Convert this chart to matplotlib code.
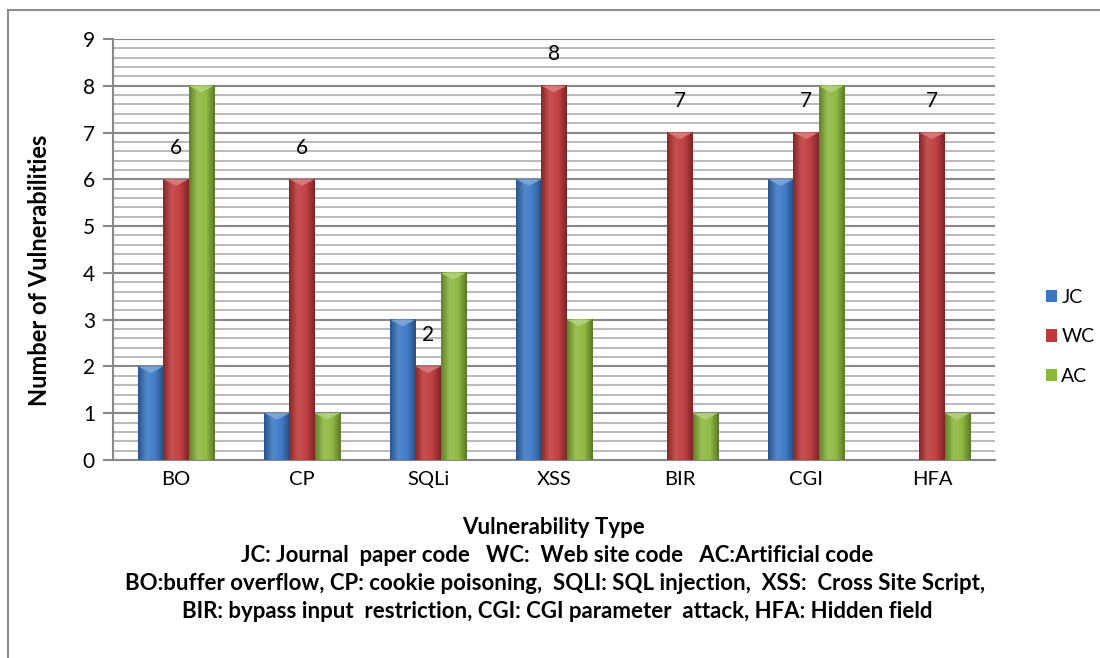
import numpy as np
import matplotlib
matplotlib.use("Agg")
import matplotlib.pyplot as plt
from matplotlib.colors import LinearSegmentedColormap, to_rgb
from matplotlib.patches import Polygon, Patch
from matplotlib.lines import Line2D

categories = ["BO", "CP", "SQLi", "XSS", "BIR", "CGI", "HFA"]
series_names = ["JC", "WC", "AC"]
jc_values = [2, 1, 3, 6, 0, 6, 0]
wc_values = [6, 6, 2, 8, 7, 7, 7]
ac_values = [8, 1, 4, 3, 1, 8, 1]
colors = ["#3b78c6", "#c0393b", "#8cb83c"]
y_ticks = list(range(0, 10))

plt.rcParams['font.family'] = ['Lato', 'DejaVu Sans']

fig = plt.figure(figsize=(11, 6.58), dpi=100)
ax = fig.add_axes([113/1100, 1-460/658, (995-113)/1100, (460-39)/658])

x = np.arange(len(categories))
width = 0.2
all_series = [jc_values, wc_values, ac_values]

def shade(c, f):
    r = np.array(to_rgb(c))
    if f >= 0:
        return tuple(r + (1 - r) * f)
    return tuple(r * (1 + f))

for i, (vals, col) in enumerate(zip(all_series, colors)):
    bars = ax.bar(x + (i - 1) * width, vals, width, color=col, zorder=3,
                  linewidth=0)
    cmap = LinearSegmentedColormap.from_list(
        "g", [shade(col, -0.3), shade(col, 0.12), shade(col, 0.04), shade(col, -0.35)])
    grad = np.linspace(0, 1, 64).reshape(1, -1)
    for b in bars:
        h = b.get_height()
        if h <= 0:
            continue
        x0 = b.get_x(); w = b.get_width()
        ax.imshow(grad, cmap=cmap, extent=(x0, x0 + w, 0, h), aspect='auto',
                  zorder=3.5, interpolation='bicubic')
        tri = Polygon([(x0, h), (x0 + w, h), (x0 + w * 0.5, h - 0.14)],
                      closed=True, facecolor=shade(col, 0.35), edgecolor='none',
                      zorder=4, alpha=0.9)
        ax.add_patch(tri)

# data labels on WC series
for xi, v in zip(x, wc_values):
    ax.text(xi, v + 0.68, str(v), ha='center', va='center', fontsize=15, color='black', zorder=5)

ax.set_xlim(-0.5, len(categories) - 0.5)
ax.set_ylim(0, 9)
ax.set_yticks(y_ticks)
ax.set_yticks(np.arange(0, 9.01, 0.2), minor=True)
ax.set_xticks(x)
ax.set_xticklabels(categories, fontsize=14.5)
ax.tick_params(axis='y', which='major', labelsize=15, length=7, width=1.5,
               color='#888888', pad=6)
ax.tick_params(axis='y', which='minor', length=0)
ax.tick_params(axis='x', length=0, pad=8)
ax.grid(axis='y', which='minor', color='#b4b4b4', linewidth=1.3, zorder=0)
ax.grid(axis='y', which='major', color='#888888', linewidth=1.5, zorder=0)
ax.set_axisbelow(True)
for s in ['top', 'right']:
    ax.spines[s].set_visible(False)
for s in ['left', 'bottom']:
    ax.spines[s].set_color('#888888')
    ax.spines[s].set_linewidth(1.5)

fig.text(40/1100, 1 - 270/658, "Number of Vulnerabilities", rotation=90,
         ha='center', va='center', fontsize=17, fontweight='bold')

fs = 16
fig.text(554/1100, 1 - 528/658, "Vulnerability Type", ha='center', va='center',
         fontsize=fs, fontweight='bold')
fig.text(557/1100, 1 - 556/658, "JC: Journal  paper code   WC:  Web site code   AC:Artificial code",
         ha='center', va='center', fontsize=fs, fontweight='bold')
fig.text(555/1100, 1 - 584/658,
         "BO:buffer overflow, CP: cookie poisoning,  SQLI: SQL injection,  XSS:  Cross Site Script,",
         ha='center', va='center', fontsize=fs, fontweight='bold')
fig.text(557/1100, 1 - 612/658,
         "BIR: bypass input  restriction, CGI: CGI parameter  attack, HFA: Hidden field",
         ha='center', va='center', fontsize=fs, fontweight='bold')

handles = [Patch(facecolor=c, edgecolor='none') for c in colors]
fig.legend(handles, series_names, loc='center left',
           bbox_to_anchor=(1036/1100, 1 - 337/658), frameon=False,
           fontsize=14, handlelength=0.6, handleheight=0.6, handletextpad=0.2,
           labelspacing=1.15, borderpad=0)

# outer frame (left and top)
fig.add_artist(Line2D([8/1100, 8/1100], [0, 1 - 10/658], transform=fig.transFigure,
                      color='#8c8c8c', linewidth=1.5))
fig.add_artist(Line2D([8/1100, 1], [1 - 10/658, 1 - 10/658], transform=fig.transFigure,
                      color='#8c8c8c', linewidth=1.5))

fig.savefig("out.png", dpi=100)
